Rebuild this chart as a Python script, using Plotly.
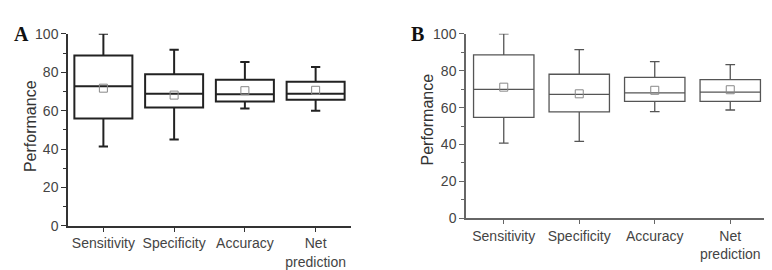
import plotly.graph_objects as go

categories = ["Sensitivity", "Specificity", "Accuracy", "Net prediction"]
tick_labels = ["Sensitivity", "Specificity", "Accuracy", "Net<br>prediction"]

# Panel A
a_lower = [41.3, 44.9, 61.1, 60.0]
a_q1 = [55.9, 61.6, 64.7, 65.7]
a_median = [72.7, 68.8, 68.5, 68.8]
a_q3 = [88.7, 78.9, 76.1, 75.0]
a_upper = [100.0, 91.7, 85.4, 82.8]
a_mean = [71.7, 68.1, 70.4, 70.6]

# Panel B
b_lower = [40.8, 41.7, 57.8, 58.7]
b_q1 = [54.7, 57.7, 63.4, 63.4]
b_median = [69.9, 67.2, 68.0, 68.4]
b_q3 = [88.6, 78.1, 76.4, 75.2]
b_upper = [100.0, 91.5, 85.0, 83.3]
b_mean = [71.1, 67.5, 69.4, 69.7]

y_ticks = [0, 20, 40, 60, 80, 100]

W, H = 772, 270
fig = go.Figure()

def add_panel(xa, ya, lower, q1, med, q3, upper, mean, color, lw, bw):
    fig.add_trace(go.Box(
        x=categories, lowerfence=lower, q1=q1, median=med, q3=q3, upperfence=upper,
        xaxis=xa, yaxis=ya, fillcolor="white", line=dict(color=color, width=lw),
        width=bw, whiskerwidth=0.16, boxpoints=False, showlegend=False, hoverinfo="skip"))
    fig.add_trace(go.Scatter(
        x=categories, y=mean, mode="markers", xaxis=xa, yaxis=ya,
        marker=dict(symbol="square-open", size=8, color="#888", line=dict(width=1)),
        showlegend=False, hoverinfo="skip"))

add_panel("x", "y", a_lower, a_q1, a_median, a_q3, a_upper, a_mean, "#222", 2, 0.82)
add_panel("x2", "y2", b_lower, b_q1, b_median, b_q3, b_upper, b_mean, "#555", 1.3, 0.8)

def px_x(p):
    return p / W

def px_y(p):
    return 1 - p / H

tickfont = dict(family="Liberation Sans, Arial", size=14, color="#444")

def xaxis_cfg(x0, x1, color):
    return dict(domain=[px_x(x0), px_x(x1)], type="category", categoryorder="array",
                categoryarray=categories, range=[-0.5, 3.5], tickvals=categories,
                ticktext=tick_labels, showline=True, linecolor=color, linewidth=1.5,
                ticks="outside", ticklen=4, tickcolor=color, tickfont=tickfont,
                showgrid=False, zeroline=False, fixedrange=True)

def yaxis_cfg(y0, y1, color, anchor):
    return dict(domain=[px_y(y1), px_y(y0)], range=[0, 100], tickvals=y_ticks,
                showline=True, linecolor=color, linewidth=1.5, ticks="outside", ticklen=5,
                tickcolor=color, tickfont=tickfont, showgrid=False, zeroline=False,
                anchor=anchor,
                minor=dict(ticks="outside", ticklen=3, dtick=10, tickcolor=color, showgrid=False))

fig.update_layout(
    width=W, height=H, margin=dict(l=0, r=0, t=0, b=0),
    paper_bgcolor="white", plot_bgcolor="white",
    xaxis=dict(**xaxis_cfg(60, 343, "#333"), anchor="y"),
    yaxis=yaxis_cfg(19, 223, "#333", "x"),
    xaxis2=dict(**xaxis_cfg(458, 760, "#666"), anchor="y2"),
    yaxis2=yaxis_cfg(19, 215, "#666", "x2"),
)

annots = [
    dict(text="<b>A</b>", x=px_x(14), y=px_y(19), font=dict(family="Liberation Serif, Times New Roman", size=20, color="#111")),
    dict(text="<b>B</b>", x=px_x(409), y=px_y(19), font=dict(family="Liberation Serif, Times New Roman", size=20, color="#111")),
    dict(text="Performance", x=px_x(22), y=px_y(117), textangle=-90, font=dict(family="Liberation Sans, Arial", size=16, color="#333")),
    dict(text="Performance", x=px_x(419), y=px_y(110), textangle=-90, font=dict(family="Liberation Sans, Arial", size=16, color="#333")),
]
for a in annots:
    fig.add_annotation(xref="paper", yref="paper", showarrow=False, xanchor="center", yanchor="middle", **a)

fig.write_html("out.html")
